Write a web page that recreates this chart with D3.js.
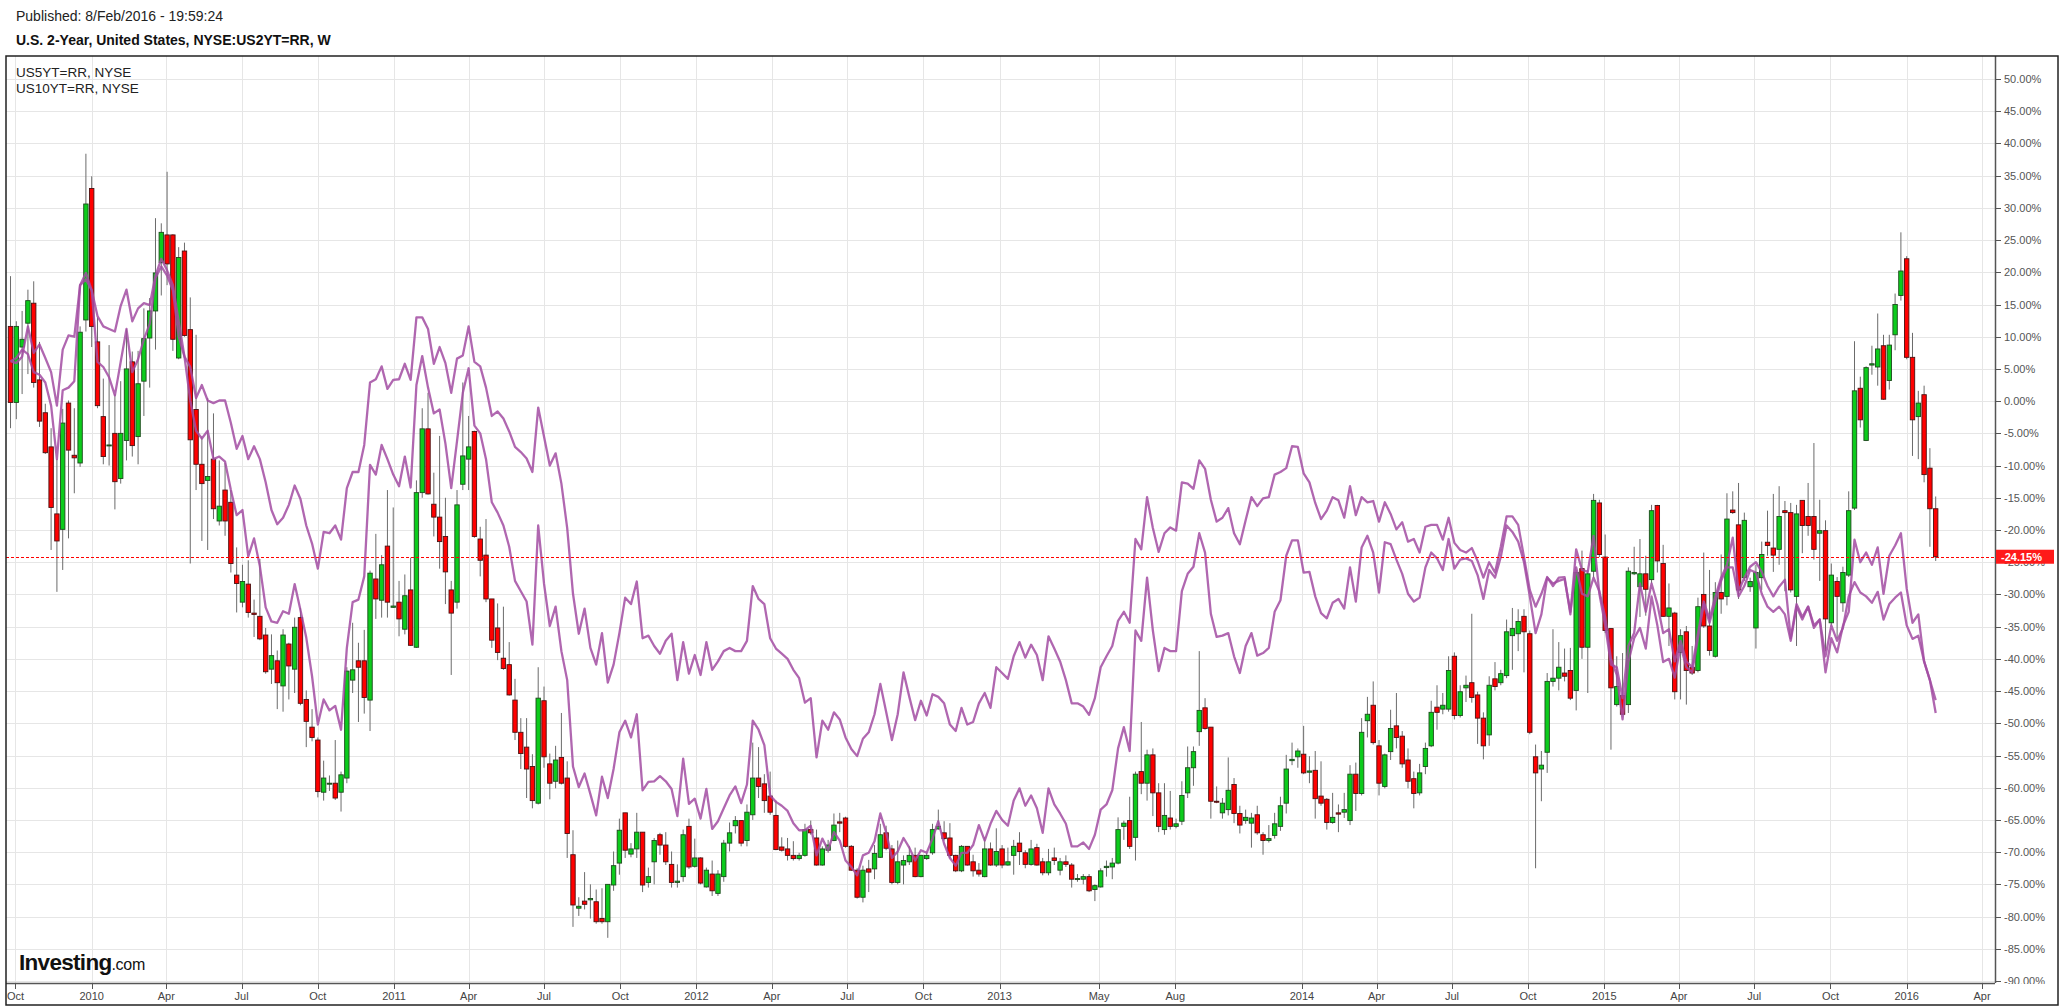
<!DOCTYPE html>
<html><head><meta charset="utf-8">
<script src="https://cdnjs.cloudflare.com/ajax/libs/d3/7.8.5/d3.min.js"></script>
<style>body{margin:0;background:#fff}svg{display:block}</style>
</head><body>
<svg id="c" width="2061" height="1007"></svg>
<script>
// ---------------- DATA ----------------
const firstBar = "2009-09-25"; // weekly bars
const open = [
11.6,-0.2,8.4,12.1,15.2,3.3,-1.8,-7.1,-17.5,-19.9,
-0.3,-8.4,-9.6,12.6,33.0,9.2,-2.4,-6.9,-5.0,-12.0,
-6.1,6.1,-5.5,3.1,9.8,14.0,21.5,25.8,25.8,6.7,
23.3,11.1,-1.3,-9.8,-12.3,-9.0,-18.6,-13.8,-15.7,-27.0,
-31.2,-28.4,-32.9,-33.4,-36.3,-41.6,-40.3,-44.2,-37.7,-41.6,
-33.6,-46.3,-50.6,-52.6,-60.7,-59.4,-59.3,-60.7,-58.5,-43.3,
-40.3,-40.3,-46.4,-27.6,-30.9,-22.5,-32.0,-31.2,-35.4,-29.3,
-38.2,-14.2,-4.3,-16.0,-18.0,-21.0,-29.3,-31.2,-12.9,-9.0,
-4.7,-21.4,-23.9,-30.7,-35.2,-39.9,-40.9,-46.4,-51.4,-53.7,
-56.7,-62.4,-46.5,-56.3,-59.0,-55.3,-58.5,-70.4,-78.7,-77.6,
-77.4,-77.7,-80.3,-80.8,-75.1,-71.7,-63.9,-70.3,-69.5,-66.9,
-74.7,-71.5,-67.3,-68.9,-71.9,-74.7,-73.8,-66.0,-72.2,-70.9,
-75.4,-73.4,-76.4,-73.8,-68.6,-65.9,-65.1,-68.2,
-64.2,-58.5,-59.4,-61.3,-64.3,-69.2,-69.5,-70.5,-71.0,-70.5,
-66.5,-67.8,-72.0,-69.7,-68.2,-65.3,-64.7,-69.1,-72.8,-77.0,
-72.6,-72.6,-70.8,-67.0,-69.5,-74.7,-72.0,-71.5,-70.5,-73.8,
-71.0,-70.1,-66.4,-67.0,-67.8,-70.5,-72.9,-69.1,-71.5,-72.8,
-73.8,-69.5,-72.0,
-69.5,-72.0,-70.5,-68.6,-70.1,-71.9,-69.3,-71.5,-73.2,-70.9,
-72.8,-71.5,-72.0,-74.2,-74.2,-73.8,-75.8,-75.4,-72.4,-72.3,
-71.7,-66.0,-65.1,-67.7,-57.5,-59.3,-54.9,-60.8,-66.5,-64.7,
-66.0,-65.2,-60.8,-56.9,-51.3,-47.6,-50.6,-62.1,-63.9,-63.4,
-59.5,-64.0,-65.1,
-65.5,-64.2,-67.3,-68.2,-67.4,-66.0,-62.4,-55.8,-55.2,-54.8,
-57.6,-57.3,-61.3,-61.8,-65.4,-63.9,-63.8,-65.1,-57.9,-60.9,
-49.6,-47.2,-53.5,-59.8,-54.4,-50.4,-52.0,-55.7,-58.6,-60.8,
-56.7,-53.5,-47.5,-47.8,-47.8,-39.6,-48.8,-44.5,-43.7,-45.6,
-49.2,-51.8,-43.1,
-43.7,-42.6,-36.4,-36.1,-33.4,-36.1,-55.2,-57.1,-54.5,-43.5,
-43.0,-42.2,-41.8,-44.9,-26.0,-38.2,-26.4,-15.8,-24.2,-35.3,
-47.1,-45.7,-47.1,-26.8,-28.8,-26.8,-27.7,-16.2,-25.2,-33.4,
-32.9,-39.0,-35.8,-41.3,-41.8,-30.0,-34.9,-39.6,-29.7,-30.3,
-16.9,-19.2,-27.4,
-28.8,-35.2,-27.4,-21.9,-22.8,-23.0,-17.0,-17.3,-30.3,-15.4,
-17.9,-17.9,-20.5,-20.1,-34.4,-28.0,-31.3,-27.0,-16.6,2.0,
-6.1,5.6,5.3,8.6,3.2,10.3,16.4,22.1,6.8,-2.4,
1.0,-10.4,-16.7
];
const high = [
19.4,12.4,14.0,17.3,18.6,9.2,-0.4,-4.2,-9.0,-1.2,
0.1,-1.1,11.6,38.4,34.9,13.0,3.5,8.7,1.1,3.1,
11.2,7.7,7.8,14.4,16.0,28.4,27.6,35.6,25.9,23.9,
24.6,16.1,10.3,-5.6,0.5,-1.9,-9.2,-9.6,-13.8,-22.7,
-25.4,-24.7,-30.8,-24.5,-35.2,-36.2,-38.7,-35.4,-37.5,-33.6,
-32.1,-44.9,-47.8,-52.2,-55.8,-58.1,-52.6,-57.5,-41.3,-34.4,
-37.5,-35.5,-26.3,-20.6,-23.9,-13.8,-16.5,-27.9,-26.9,-24.3,
-12.3,-1.1,1.3,-11.1,-5.4,-15.0,-27.9,-13.8,2.9,-2.3,
-4.6,-19.5,-18.3,-30.7,-31.4,-31.9,-37.4,-43.1,-49.2,-49.2,
-54.8,-41.3,-44.3,-54.7,-53.5,-48.4,-55.9,-66.6,-77.0,-73.1,
-75.0,-75.8,-75.6,-75.0,-69.9,-64.8,-63.9,-68.6,-63.9,-66.9,
-72.4,-67.8,-67.0,-66.9,-69.9,-71.9,-66.5,-64.8,-67.9,-70.8,
-72.4,-71.3,-72.8,-68.1,-65.4,-64.4,-65.1,-62.6,
-53.0,-53.7,-57.9,-57.5,-62.0,-67.7,-67.8,-68.3,-70.1,-65.6,
-65.1,-66.5,-69.1,-68.1,-64.0,-63.9,-64.5,-68.9,-72.5,-72.1,
-71.2,-68.9,-65.6,-65.9,-68.9,-68.2,-70.5,-69.1,-69.3,-70.4,
-70.1,-65.6,-63.4,-65.2,-65.5,-70.4,-68.9,-69.1,-70.4,-71.7,
-67.7,-68.5,-66.3,
-68.9,-69.3,-68.1,-66.9,-69.7,-68.1,-68.7,-70.9,-69.5,-69.3,
-70.9,-70.5,-71.7,-73.4,-73.4,-73.4,-75.0,-72.5,-71.3,-70.9,
-64.6,-65.1,-61.4,-57.5,-49.8,-54.1,-53.9,-59.3,-59.3,-60.5,
-64.8,-59.0,-53.6,-53.6,-38.8,-46.1,-50.6,-59.8,-61.6,-55.3,
-58.5,-62.8,-63.4,
-63.9,-62.8,-66.9,-65.8,-63.9,-61.4,-54.9,-53.0,-53.9,-50.4,
-55.1,-54.3,-55.9,-61.6,-60.8,-62.6,-60.8,-56.5,-56.1,-49.2,
-45.9,-43.5,-52.6,-54.7,-47.9,-45.3,-51.2,-53.9,-57.5,-56.3,
-53.0,-46.5,-44.1,-45.3,-39.6,-39.0,-44.1,-42.6,-33.0,-45.1,
-48.3,-42.7,-40.5,
-41.7,-33.9,-32.1,-32.3,-32.3,-35.6,-53.3,-54.3,-42.2,-35.4,
-37.4,-38.4,-38.3,-26.2,-23.2,-26.2,-14.4,-15.3,-20.7,-35.3,
-39.6,-39.1,-25.8,-22.6,-21.4,-24.0,-16.1,-16.1,-22.3,-28.3,
-32.7,-35.4,-34.9,-38.0,-30.5,-23.5,-26.2,-28.1,-23.8,-14.3,
-14.0,-12.7,-17.3,
-27.4,-25.4,-21.8,-17.0,-14.4,-13.2,-15.5,-15.8,-16.1,-15.4,
-12.7,-6.5,-15.3,-18.5,-25.2,-27.3,-25.7,-14.0,9.3,3.8,
5.4,8.6,13.6,10.3,10.3,16.7,26.2,22.5,10.6,1.6,
2.4,-7.3,-14.8
];
const low = [
-4.2,-2.8,1.1,4.2,2.1,-4.0,-8.2,-23.1,-29.6,-26.2,
-21.3,-14.3,-10.2,10.8,8.4,-1.1,-9.8,-10.0,-16.8,-12.8,
-9.2,-8.6,-9.8,-2.3,2.1,8.0,16.4,18.0,7.8,6.5,
10.0,-25.2,-13.8,-21.7,-23.1,-18.3,-19.3,-20.9,-26.6,-32.8,
-32.0,-33.6,-36.6,-37.1,-42.3,-43.9,-47.8,-48.2,-46.3,-45.3,
-47.2,-53.7,-52.8,-61.5,-62.0,-60.5,-61.9,-63.7,-59.3,-45.3,
-49.8,-48.5,-51.2,-33.8,-33.6,-33.6,-32.1,-36.5,-36.2,-38.0,
-38.3,-15.0,-14.5,-21.0,-26.0,-31.5,-42.5,-32.2,-13.8,-13.8,
-21.2,-27.2,-31.2,-38.3,-40.2,-41.7,-45.7,-52.6,-57.1,-61.6,
-63.2,-62.6,-56.9,-61.8,-60.1,-59.5,-70.9,-81.6,-79.9,-78.9,
-80.3,-81.1,-81.1,-83.3,-76.0,-73.5,-70.9,-70.8,-70.9,-76.2,
-75.5,-75.0,-70.4,-72.0,-75.5,-75.5,-74.6,-72.6,-72.4,-75.0,
-75.5,-76.8,-76.8,-74.6,-69.9,-67.1,-69.1,-69.1,
-65.0,-61.6,-63.9,-64.2,-69.7,-69.9,-71.3,-71.3,-71.3,-70.7,
-67.3,-72.1,-72.1,-70.1,-68.3,-66.9,-69.3,-72.9,-77.2,-77.8,
-76.2,-74.2,-70.9,-69.7,-75.0,-75.0,-75.0,-72.0,-73.9,-73.9,
-71.2,-70.4,-66.5,-68.2,-70.9,-73.1,-73.1,-72.1,-73.8,-73.8,
-73.9,-72.1,-72.3,
-72.5,-72.1,-73.5,-72.0,-72.5,-72.1,-72.1,-73.6,-73.6,-72.0,
-73.6,-72.3,-75.5,-74.6,-75.0,-76.2,-77.6,-75.5,-73.8,-74.2,
-71.9,-68.1,-69.5,-71.3,-61.0,-62.0,-64.4,-66.9,-67.3,-66.5,
-66.3,-65.8,-61.6,-59.7,-53.5,-51.0,-64.8,-62.4,-64.8,-64.3,
-65.5,-67.1,-65.6,
-69.3,-67.3,-70.4,-68.5,-67.9,-66.7,-64.0,-56.5,-56.9,-57.9,
-59.3,-64.8,-62.8,-66.5,-65.6,-66.9,-64.7,-65.8,-63.6,-61.2,
-52.2,-53.3,-61.2,-60.1,-55.7,-53.9,-56.9,-60.1,-63.2,-61.2,
-57.9,-53.7,-51.0,-48.6,-48.2,-49.4,-49.1,-46.7,-46.8,-53.2,
-55.6,-53.5,-44.9,
-44.1,-43.0,-41.7,-38.8,-42.1,-51.7,-72.5,-62.1,-57.7,-44.3,
-44.9,-43.5,-46.4,-48.0,-40.0,-45.3,-27.4,-24.2,-36.0,-54.1,
-47.4,-48.7,-48.4,-27.0,-33.5,-33.3,-28.3,-26.6,-33.5,-38.0,
-46.3,-46.3,-47.1,-42.5,-42.1,-35.2,-39.5,-39.8,-33.0,-31.7,
-17.5,-30.7,-27.9,
-29.6,-38.4,-29.3,-24.0,-26.5,-25.4,-29.5,-29.7,-38.0,-23.6,
-20.9,-24.6,-27.9,-38.8,-34.8,-36.8,-32.7,-27.3,-16.9,-4.1,
-6.2,4.1,2.4,0.2,1.8,7.9,15.6,6.5,-8.5,-9.0,
-12.6,-22.6,-24.8
];
const close = [
-0.2,11.6,9.6,15.6,2.9,-3.1,-8.0,-16.5,-21.7,-3.4,
-7.6,-8.8,10.7,30.6,11.6,-0.7,-8.6,-6.8,-12.5,-5.0,
5.0,-6.9,2.7,9.7,14.0,19.9,26.2,21.3,9.6,22.3,
10.2,-6.0,-9.8,-12.8,-11.7,-16.7,-16.3,-18.6,-25.2,-28.3,
-28.0,-32.8,-33.1,-36.9,-42.0,-39.5,-43.7,-36.3,-41.1,-35.1,
-46.9,-49.7,-52.2,-60.6,-58.5,-59.3,-61.6,-58.0,-41.9,-41.7,
-41.3,-46.0,-26.7,-30.7,-25.4,-31.2,-31.8,-33.8,-30.2,-37.9,
-14.2,-4.3,-14.4,-18.0,-21.8,-26.5,-32.9,-16.1,-8.5,-7.1,
-21.0,-24.7,-30.7,-37.1,-39.0,-41.5,-45.6,-51.4,-54.7,-57.1,
-62.0,-46.1,-55.2,-59.3,-55.7,-59.3,-67.1,-78.2,-78.4,-78.1,
-77.2,-80.8,-80.8,-75.0,-72.1,-66.6,-69.7,-69.5,-66.9,-75.1,
-73.8,-68.2,-68.9,-71.5,-74.7,-74.5,-67.3,-72.3,-70.9,-74.8,
-72.8,-76.0,-73.4,-68.6,-67.0,-65.1,-68.6,-63.8,
-58.5,-59.8,-62.0,-63.8,-69.6,-69.7,-70.5,-71.0,-70.5,-66.5,
-67.0,-72.0,-69.5,-68.9,-65.8,-65.5,-69.1,-72.8,-77.0,-72.8,
-73.1,-70.2,-67.3,-69.4,-74.7,-71.5,-71.3,-70.5,-73.8,-70.5,
-70.5,-66.5,-66.0,-67.9,-70.5,-72.9,-69.1,-72.0,-72.9,-73.4,
-69.5,-72.0,-69.9,
-72.0,-71.5,-69.1,-69.9,-71.9,-69.5,-72.0,-73.2,-71.5,-71.3,
-71.5,-71.9,-74.2,-74.1,-73.8,-76.0,-75.2,-72.9,-72.2,-71.7,
-66.5,-65.5,-69.1,-57.9,-59.3,-54.9,-60.8,-66.0,-64.3,-66.0,
-65.6,-61.2,-56.9,-54.4,-48.0,-50.8,-62.1,-62.2,-62.4,-60.4,
-64.0,-65.8,-64.6,
-64.7,-67.0,-68.2,-67.9,-65.6,-62.8,-57.1,-55.6,-54.3,-57.7,
-57.4,-61.7,-62.4,-65.4,-64.6,-64.1,-63.4,-57.9,-60.9,-51.4,
-48.6,-53.0,-59.3,-54.9,-50.8,-52.2,-56.3,-59.0,-60.9,-57.7,
-53.9,-48.3,-48.3,-47.2,-41.8,-48.8,-45.1,-44.1,-46.0,-49.2,
-53.5,-44.1,-44.3,
-42.3,-35.8,-35.3,-34.2,-35.8,-51.4,-57.7,-56.5,-43.5,-43.0,
-41.3,-42.7,-46.1,-26.6,-38.2,-26.8,-15.4,-23.8,-35.6,-44.5,
-44.3,-48.6,-26.4,-26.6,-26.8,-29.2,-17.0,-24.8,-33.4,-32.1,
-45.1,-36.4,-41.8,-42.2,-31.9,-34.9,-38.7,-29.7,-30.7,-18.3,
-17.3,-29.3,-18.5,
-28.0,-26.6,-23.8,-22.4,-23.9,-17.9,-17.3,-29.3,-17.5,-19.3,
-19.3,-23.0,-20.1,-33.8,-27.0,-30.3,-26.6,-17.0,1.6,-2.9,
5.2,5.8,8.1,0.3,8.7,15.0,20.2,6.8,-2.9,-0.3,
-11.4,-16.7,-24.15
];
const us10 = [
6.2,5.9,6.9,11.6,7.5,8.8,6.7,4.5,-0.7,8.0,
10.2,10.0,18.0,18.9,17.2,13.2,11.6,11.2,10.8,14.8,
17.3,12.4,14.4,15.2,14.9,19.5,22.1,20.3,18.0,12.4,
6.9,5.3,0.5,2.5,0.1,-0.3,0.1,0.1,-3.4,-7.4,
-5.4,-9.0,
-7.0,-9.0,-12.6,-16.9,-19.1,-18.1,-16.1,-13.1,-15.2,-19.3,
-22.1,-26.0,-20.3,-20.5,-19.3,-21.5,-13.5,-11.0,-11.0,-6.8,
2.9,3.4,5.4,1.9,3.3,3.4,5.8,3.3,13.0,13.0,
11.2,5.8,8.4,5.9,1.3,6.6,7.1,11.6,6.1,5.4,
2.1,-2.3,-1.6,
-2.7,-4.7,-7.1,-7.9,-8.9,-11.0,-1.0,-5.5,-10.0,-8.1,
-12.8,-19.7,-29.9,-36.1,-32.2,-38.3,-40.9,-36.0,-43.7,-40.9,
-36.0,-30.5,-31.5,-28.0,-36.8,-36.4,-38.0,-39.2,-37.2,-36.1,
-43.3,-37.4,-42.3,-39.4,-42.5,-37.4,-41.7,-40.4,-38.8,-38.3,
-38.8,-38.8,-37.2,
-28.7,-30.7,-31.5,-36.8,-38.4,-39.2,-40.0,-41.7,-43.0,-46.8,
-46.1,-55.3,-49.6,-51.0,-48.3,-49.4,-52.2,-54.0,-55.1,-52.4,
-51.4,-48.6,-43.9,-48.2,-52.6,-48.6,-42.1,-45.9,-49.5,-46.5,
-48.8,-45.5,-45.9,-46.9,-50.2,-51.2,-47.6,-50.2,-49.8,-46.9,
-45.3,-47.6,-41.3,
-42.2,-43.1,-39.6,-37.4,-39.8,-37.8,-39.4,-43.3,-36.5,-38.4,
-40.4,-43.3,-46.9,-46.9,-47.4,-48.7,-46.1,-41.3,-39.6,-38.0,
-34.1,-32.7,-34.4,-21.4,-23.0,-14.9,-19.7,-23.4,-20.5,-19.6,
-20.1,-12.6,-12.8,-13.6,-9.2,-10.5,-15.3,-18.7,-18.1,-16.6,
-20.5,-22.2,-18.5,
-14.9,-16.3,-15.1,-14.9,-11.4,-11.0,-10.4,-7.0,-7.1,-11.2,
-12.6,-15.8,-18.3,-17.0,-14.9,-15.4,-18.1,-13.2,-17.7,-14.9,
-15.7,-15.5,-18.7,-15.7,-17.5,-19.9,-18.8,-21.8,-21.4,-23.5,
-19.5,-19.2,-19.2,-21.5,-18.1,-22.0,-23.1,-23.5,-22.8,-24.8,
-27.4,-25.0,-26.6,
-22.6,-17.9,-17.9,-19.2,-24.2,-29.3,-31.9,-29.9,-27.3,-28.7,
-27.4,-27.3,-33.1,-23.0,-26.2,-26.5,-20.9,-29.9,-34.8,-40.9,
-41.3,-46.1,-38.0,-36.0,-28.3,-32.7,-28.3,-31.5,-36.0,-35.4,
-40.4,-37.2,-40.4,-41.3,-36.0,-31.1,-33.8,-30.3,-27.4,-25.4,
-21.2,-29.5,-27.4,
-25.7,-25.0,-26.5,-28.7,-30.3,-28.8,-27.7,-36.8,-31.5,-33.5,
-31.9,-34.8,-33.9,-42.1,-36.8,-39.0,-34.9,-32.7,-21.5,-25.0,
-23.5,-25.4,-22.7,-29.9,-24.0,-22.4,-20.5,-29.1,-34.4,-33.1,
-40.4,-43.3,-46.4
];
const us5 = [
6.2,6.7,8.0,7.3,4.5,4.1,2.9,-0.7,-9.0,1.7,
2.1,3.1,18.0,19.9,17.2,6.1,5.3,3.7,0.9,6.1,
11.2,4.5,6.5,9.6,12.0,19.1,20.9,19.5,17.2,10.0,
6.9,0.1,-4.6,-5.8,-4.6,-9.0,-8.6,-9.4,-13.8,-17.7,
-16.9,-24.1,
-21.3,-25.6,-32.0,-34.2,-34.4,-32.6,-33.0,-28.4,-32.4,-36.7,
-42.7,-50.2,-46.3,-48.0,-47.3,-51.0,-38.3,-31.2,-30.8,-27.2,
-9.9,-11.4,-6.8,-9.0,-11.4,-13.2,-8.6,-13.4,2.5,7.0,
2.1,-1.9,-1.3,-6.6,-13.5,-6.2,1.3,5.1,-3.8,-5.0,
-9.0,-15.7,-17.3,
-19.3,-22.6,-27.9,-29.5,-31.1,-37.8,-19.3,-28.3,-34.9,-31.9,
-38.8,-43.3,-56.7,-59.9,-57.8,-61.0,-64.3,-58.3,-61.6,-57.1,
-51.4,-49.6,-52.2,-48.6,-60.4,-59.1,-59.0,-58.2,-59.0,-60.2,
-64.4,-55.5,-62.5,-61.7,-64.8,-60.2,-66.4,-65.2,-63.2,-61.2,
-59.8,-62.4,-59.5,
-49.6,-51.0,-53.4,-61.2,-62.2,-62.8,-63.6,-65.5,-66.6,-66.6,
-65.9,-70.5,-67.9,-69.7,-66.9,-68.2,-71.3,-72.3,-73.6,-70.5,
-70.1,-68.3,-64.0,-66.9,-70.9,-69.9,-67.8,-69.3,-71.3,-69.7,
-70.1,-67.9,-65.2,-68.7,-70.9,-72.1,-70.1,-70.1,-68.9,-65.8,
-68.2,-65.6,-63.6,
-65.0,-65.9,-62.0,-60.1,-62.8,-61.2,-63.2,-67.0,-60.1,-62.6,
-64.0,-65.6,-69.1,-69.1,-68.5,-69.5,-67.3,-63.4,-62.6,-60.4,
-53.9,-50.6,-54.3,-35.6,-37.2,-27.4,-35.6,-41.9,-38.3,-38.8,
-38.8,-29.5,-26.8,-25.7,-20.5,-23.5,-33.0,-36.6,-36.4,-36.0,
-39.6,-42.2,-38.0,
-36.0,-39.5,-39.1,-38.3,-32.7,-30.9,-24.0,-21.6,-21.6,-26.6,
-26.5,-30.3,-32.9,-33.7,-31.3,-30.7,-32.2,-25.8,-31.1,-22.7,
-20.9,-23.5,-29.7,-21.9,-22.2,-24.6,-26.8,-29.9,-31.1,-30.5,
-25.8,-23.5,-24.4,-26.2,-21.4,-26.0,-24.6,-24.4,-24.8,-27.0,
-30.7,-26.2,-27.4,
-24.2,-19.3,-20.3,-21.8,-25.0,-30.3,-36.0,-33.1,-27.4,-28.3,
-27.9,-27.6,-32.7,-25.8,-29.9,-30.3,-27.4,-29.5,-33.5,-40.0,
-42.5,-49.4,-40.5,-36.8,-35.2,-38.4,-30.3,-34.8,-40.5,-40.0,
-42.9,-38.0,-41.3,-42.1,-36.8,-31.5,-34.4,-31.1,-27.9,-25.8,
-25.8,-30.3,-28.7,
-26.2,-26.6,-29.9,-31.9,-32.7,-31.9,-33.1,-37.2,-31.9,-33.9,
-31.9,-35.2,-33.9,-39.6,-34.8,-37.2,-35.2,-30.3,-28.1,-29.7,
-30.3,-31.3,-29.6,-33.9,-31.5,-30.5,-29.7,-34.8,-36.9,-36.4,
-40.4,-43.3,-48.4
];
const tickDates = ["2009-10-01","2010-01-01","2010-04-01","2010-07-01","2010-10-01","2011-01-01","2011-04-01","2011-07-01","2011-10-01","2012-01-01","2012-04-01","2012-07-01","2012-10-01","2013-01-01","2013-05-01","2013-08-01","2014-01-01","2014-04-01","2014-07-01","2014-10-01","2015-01-01","2015-04-01","2015-07-01","2015-10-01","2016-01-01","2016-04-01"];
const tickLabels = ["Oct","2010","Apr","Jul","Oct","2011","Apr","Jul","Oct","2012","Apr","Jul","Oct","2013","May","Aug","2014","Apr","Jul","Oct","2015","Apr","Jul","Oct","2016","Apr"];
const yTicks = [50,45,40,35,30,25,20,15,10,5,0,-5,-10,-15,-20,-25,-30,-35,-40,-45,-50,-55,-60,-65,-70,-75,-80,-85,-90];
const lastValue = -24.15;
const publishedText = "Published: 8/Feb/2016 - 19:59:24";
const titleText = "U.S. 2-Year, United States, NYSE:US2YT=RR, W";
const legendNames = ["US5YT=RR, NYSE","US10YT=RR, NYSE"];

// ---------------- LAYOUT ----------------
const P = {left:6, right:1995, top:56, bottom:983};
const svg = d3.select("#c");
const parse = d3.utcParse("%Y-%m-%d");
const x = d3.scaleUtc().domain([parse("2010-01-01"), parse("2016-01-01")]).range([91.7, 1906.7]);
const y = d3.scaleLinear().domain([50,-90]).range([79,981]);
const n = Math.min(open.length, high.length, low.length, close.length);
const t0 = parse(firstBar).getTime();
const dates = d3.range(n).map(i => new Date(t0 + i*7*864e5));
const bars = dates.map((d,i)=>({d, o:open[i], c:close[i],
  h:Math.max(high[i],open[i],close[i]), l:Math.min(low[i],open[i],close[i])}));
const FONT = "'Liberation Sans', Arial, sans-serif";
const NARROW = "'Liberation Sans Narrow', 'Arial Narrow', 'Liberation Sans', sans-serif";

svg.append("rect").attr("width",2061).attr("height",1007).attr("fill","#fff");

const defs = svg.append("defs");
defs.append("clipPath").attr("id","plot").append("rect")
  .attr("x",P.left).attr("y",P.top).attr("width",P.right-P.left).attr("height",P.bottom-P.top);
defs.append("clipPath").attr("id","ylab").append("rect")
  .attr("x",P.right).attr("y",P.top).attr("width",70).attr("height",P.bottom-P.top+1);

// grid
const grid = svg.append("g").attr("stroke","#e6e6e6").attr("stroke-width",1);
grid.selectAll(".hg").data(yTicks).join("line")
  .attr("x1",P.left).attr("x2",P.right)
  .attr("y1",d=>Math.round(y(d))+0.5).attr("y2",d=>Math.round(y(d))+0.5);
grid.selectAll(".vg").data(tickDates).join("line")
  .attr("x1",d=>Math.round(x(parse(d)))+0.5).attr("x2",d=>Math.round(x(parse(d)))+0.5)
  .attr("y1",P.top).attr("y2",P.bottom);

const plot = svg.append("g").attr("clip-path","url(#plot)");

// candles
const bw = 4.4;
const cg = plot.append("g");
cg.selectAll(".w").data(bars).join("line")
  .attr("x1",d=>x(d.d)).attr("x2",d=>x(d.d))
  .attr("y1",d=>y(d.h)).attr("y2",d=>y(d.l))
  .attr("stroke","#6b6b6b").attr("stroke-width",1);
cg.selectAll(".b").data(bars).join("rect")
  .attr("x",d=>x(d.d)-bw/2)
  .attr("y",d=>y(Math.max(d.o,d.c)))
  .attr("width",bw)
  .attr("height",d=>Math.max(1, Math.abs(y(d.o)-y(d.c))))
  .attr("fill",d=>d.c>=d.o?"#0ccc1c":"#ff0000")
  .attr("stroke",d=>d.c>=d.o?"#1c4a1c":"#4a1010")
  .attr("stroke-width",0.9);

// comparison lines
const line = d3.line().x((v,i)=>x(dates[i])).y(v=>y(v));
[us5, us10].forEach(s=>{
  plot.append("path").datum(s.slice(0,n)).attr("d",line)
    .attr("fill","none").attr("stroke","#a24ca2").attr("stroke-width",2.3)
    .attr("stroke-opacity",0.85).attr("stroke-linejoin","round");
});

// last value dashed line
plot.append("line").attr("x1",P.left).attr("x2",P.right)
  .attr("y1",Math.round(y(lastValue))+0.5).attr("y2",Math.round(y(lastValue))+0.5)
  .attr("stroke","#ff0000").attr("stroke-width",1).attr("stroke-dasharray","3,2");

// axes
svg.append("line").attr("x1",P.right+0.5).attr("x2",P.right+0.5).attr("y1",P.top).attr("y2",P.bottom)
  .attr("stroke","#555").attr("stroke-width",1.5);
svg.append("line").attr("x1",P.left).attr("x2",P.right).attr("y1",P.bottom+0.5).attr("y2",P.bottom+0.5)
  .attr("stroke","#555").attr("stroke-width",1.5);

const yl = svg.append("g").attr("clip-path","url(#ylab)");
yl.selectAll("line").data(yTicks).join("line")
  .attr("x1",P.right).attr("x2",P.right+6)
  .attr("y1",d=>Math.round(y(d))+0.5).attr("y2",d=>Math.round(y(d))+0.5)
  .attr("stroke","#555");
yl.selectAll("text").data(yTicks).join("text")
  .attr("x",P.right+9).attr("y",d=>y(d)+4)
  .attr("font-family",FONT).attr("font-size",11).attr("fill","#555")
  .text(d=>d.toFixed(2)+"%");

const xl = svg.append("g");
xl.selectAll("line").data(tickDates).join("line")
  .attr("x1",d=>Math.round(x(parse(d)))+0.5).attr("x2",d=>Math.round(x(parse(d)))+0.5)
  .attr("y1",P.bottom).attr("y2",P.bottom+6).attr("stroke","#555");
xl.selectAll("text").data(tickDates).join("text")
  .attr("x",d=>x(parse(d))).attr("y",P.bottom+17)
  .attr("text-anchor","middle").attr("font-family",NARROW).attr("font-size",11).attr("fill","#444")
  .text((d,i)=>tickLabels[i]);

// last value label
const ly = y(lastValue);
svg.append("rect").attr("x",P.right+1).attr("y",ly-7).attr("width",58).attr("height",14).attr("fill","#ff1a1a");
svg.append("text").attr("x",P.right+6).attr("y",ly+4).attr("font-family",FONT).attr("font-size",11)
  .attr("font-weight","bold").attr("fill","#fff").text(lastValue.toFixed(2)+"%");

// header
svg.append("text").attr("x",16).attr("y",21).attr("font-family",FONT).attr("font-size",14).attr("fill","#222").text(publishedText);
svg.append("text").attr("x",16).attr("y",45).attr("font-family",FONT).attr("font-size",14).attr("font-weight","bold").attr("fill","#111").text(titleText);
svg.selectAll(".lg").data(legendNames).join("text")
  .attr("x",16).attr("y",(d,i)=>77+i*16).attr("font-family",FONT).attr("font-size",13.5).attr("fill","#222").text(d=>d);

// logo
const logo = svg.append("text").attr("x",19).attr("y",970).attr("font-family",FONT).attr("fill","#111");
logo.append("tspan").attr("font-size",22.5).attr("font-weight","bold").attr("letter-spacing",-0.7).text("Investing");
logo.append("tspan").attr("font-size",16).attr("letter-spacing",-0.3).text(".com");

// frame
svg.append("rect").attr("x",6).attr("y",56).attr("width",2052).attr("height",949)
  .attr("fill","none").attr("stroke","#222").attr("stroke-width",1.5);
</script>
</body></html>
